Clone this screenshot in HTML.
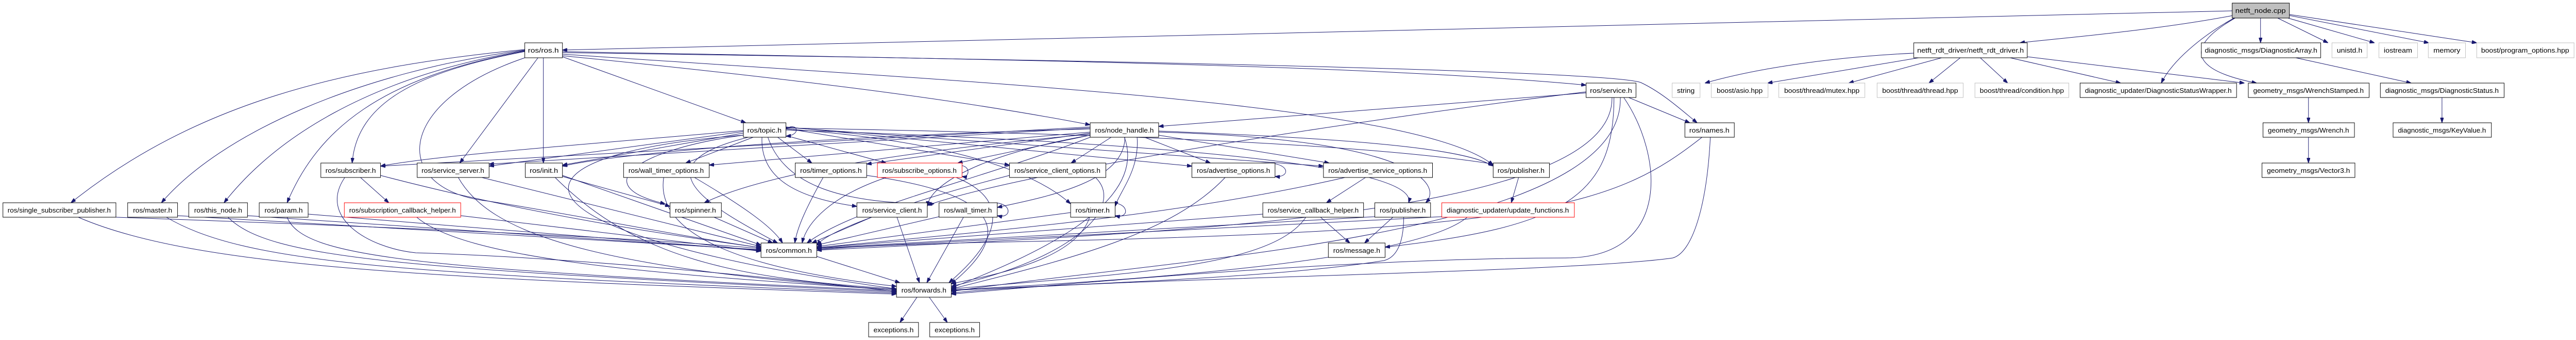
<!DOCTYPE html>
<html><head><meta charset="utf-8"><style>
html,body{margin:0;padding:0;background:#fff;width:5267px;height:659px;overflow:hidden;}
svg{display:block;position:fixed;left:0;top:0;width:100vw;height:100vh;}
text{font-family:"Liberation Sans",sans-serif;font-size:13px;fill:#000;text-anchor:middle;}
.n{fill:#fff;stroke:#000;stroke-width:1;}
.r{fill:#fff;stroke:#ff0000;stroke-width:1;}
.g{fill:#fff;stroke:#bfbfbf;stroke-width:1;}
.e path{fill:none;stroke:#191970;stroke-width:1;marker-end:url(#a);}
</style></head><body>
<svg viewBox="0 0 5267 659" preserveAspectRatio="none" xmlns="http://www.w3.org/2000/svg">
<defs><marker id="a" markerWidth="10" markerHeight="7" refX="10" refY="3.5" orient="auto" markerUnits="userSpaceOnUse"><path d="M0,0 L10,3.5 L0,7 z" fill="#191970" stroke="#191970"/></marker></defs>
<g class="e">
<path d="M4564 21 L1150 97"/>
<path d="M4566 30 C4400 60,4200 75,4130 83"/>
<path d="M4622 35 L4622 83"/>
<path d="M4657 35 L4760 83"/>
<path d="M4678 35 L4855 83"/>
<path d="M4681 30 L4966 83"/>
<path d="M4681 28 L5064 83"/>
<path d="M4568 35 C4500 70,4440 120,4419 161"/>
<path d="M4570 35 C4450 100,4500 140,4614 161"/>
<path d="M3913 103 C3760 110,3600 130,3486 161"/>
<path d="M3923 112 L3614 161"/>
<path d="M3970 112 L3780 161"/>
<path d="M4008 112 L3944 161"/>
<path d="M4049 112 L4105 161"/>
<path d="M4110 112 L4336 161"/>
<path d="M4145 110 L4589 161"/>
<path d="M4694 112 L4930 161"/>
<path d="M4993 189 L4993 238"/>
<path d="M4720 189 L4720 238"/>
<path d="M4720 266 L4720 316"/>
<path d="M1150 100 C2000 115,2800 125,3243 165"/>
<path d="M1150 102 C2500 120,3300 140,3355 160 C3400 180,3440 215,3470 238"/>
<path d="M1150 105 C2000 160,2900 200,3053 320"/>
<path d="M1150 108 C1700 160,2000 200,2229 242"/>
<path d="M1150 110 L1525 238"/>
<path d="M1111 112 L1111 316"/>
<path d="M1100 112 L940 316"/>
<path d="M1073 100 C850 140,730 200,720 316"/>
<path d="M1073 99 C780 150,650 250,587 393"/>
<path d="M1073 98 C750 150,560 270,458 393"/>
<path d="M1073 97 C730 140,450 260,330 393"/>
<path d="M1073 96 C700 130,400 200,145 393"/>
<path d="M1073 112 C800 200,800 370,1000 390 C1200 420,1400 460,1556 480"/>
<path d="M1607 250 C1630 235,1640 262,1607 264"/>
<path d="M1520 253 C1200 280,900 300,778 322"/>
<path d="M1520 255 L1000 322"/>
<path d="M1520 258 L1150 320"/>
<path d="M1540 266 L1402 316"/>
<path d="M1590 266 L1660 316"/>
<path d="M1612 264 L1812 316"/>
<path d="M1520 262 C1300 290,1200 360,1360 395"/>
<path d="M1558 266 C1555 330,1600 380,1752 400"/>
<path d="M1570 266 C1600 350,1700 395,1910 395"/>
<path d="M1530 266 C1300 320,1450 400,1590 471"/>
<path d="M1520 262 C1000 300,1000 450,1833 560"/>
<path d="M1607 250 C1900 270,2100 320,2189 395"/>
<path d="M1607 248 C2300 260,2800 280,3053 318"/>
<path d="M1607 252 C2500 280,2900 330,2880 393"/>
<path d="M1607 246 L2437 322"/>
<path d="M1607 247 L2706 322"/>
<path d="M1607 249 L2064 320"/>
<path d="M2272 266 L2190 316"/>
<path d="M2340 266 L2475 316"/>
<path d="M2369 262 L2718 316"/>
<path d="M2369 254 C2800 270,3000 290,3053 322"/>
<path d="M2369 256 C2900 270,2950 360,2915 393"/>
<path d="M2325 266 C2330 330,2290 370,2280 400"/>
<path d="M2300 266 C2300 350,2150 380,2039 402"/>
<path d="M2229 262 L1958 316"/>
<path d="M2229 258 L1772 318"/>
<path d="M2229 250 C1800 260,1300 290,1150 322"/>
<path d="M2229 248 L1000 318"/>
<path d="M2229 246 L778 322"/>
<path d="M2229 260 C2000 280,1600 320,1440 393"/>
<path d="M2229 262 C2000 300,1900 360,1896 400"/>
<path d="M2229 266 C2000 350,1750 400,1650 471"/>
<path d="M2299 266 C2350 400,2100 500,1945 558"/>
<path d="M2229 256 L1450 320"/>
<path d="M3243 180 L2369 245"/>
<path d="M3330 189 L3455 238"/>
<path d="M3296 189 C3300 420,2400 450,1670 485"/>
<path d="M3313 189 C3320 460,2400 500,1945 565"/>
<path d="M3320 189 C3400 300,3420 500,3200 500 C2800 500,2300 540,1945 570"/>
<path d="M3243 178 C2800 230,2100 330,1896 398"/>
<path d="M3300 189 C3300 380,3200 440,2832 479"/>
<path d="M3480 266 C3300 400,3150 450,2000 470 C1800 475,1700 480,1670 485"/>
<path d="M3497 266 C3490 400,3460 490,3420 500 C3200 530,2200 540,1945 568"/>
<path d="M778 340 C1100 420,1400 460,1556 480"/>
<path d="M705 344 C650 420,750 480,850 490 C1200 500,1600 540,1833 565"/>
<path d="M737 344 L795 393"/>
<path d="M985 344 L1556 478"/>
<path d="M937 344 C1000 450,1200 520,1833 562"/>
<path d="M1150 340 L1556 475"/>
<path d="M1135 344 C1300 500,1500 540,1833 560"/>
<path d="M1150 342 L1370 400"/>
<path d="M1420 344 C1520 400,1580 440,1600 471"/>
<path d="M1357 344 C1340 450,1500 520,1833 555"/>
<path d="M1683 344 C1650 400,1630 440,1625 471"/>
<path d="M1772 340 C2000 370,2100 430,1945 550"/>
<path d="M1812 344 C1700 380,1650 430,1640 471"/>
<path d="M1955 322 C1985 315,1985 345,1967 342"/>
<path d="M1955 344 C2100 400,2000 500,1940 548"/>
<path d="M2064 340 C1900 380,1700 440,1670 475"/>
<path d="M2240 344 C2300 400,2200 500,1945 555"/>
<path d="M2505 344 C2400 450,2200 500,1945 560"/>
<path d="M2577 316 C2640 312,2640 345,2607 342"/>
<path d="M2750 344 C2400 420,2000 450,1670 480"/>
<path d="M2792 344 L2712 393"/>
<path d="M3105 344 L3090 393"/>
<path d="M237 421 C800 440,1300 460,1556 482"/>
<path d="M160 421 C400 520,900 540,1833 570"/>
<path d="M363 418 L1556 484"/>
<path d="M340 421 C500 510,800 530,1833 568"/>
<path d="M506 418 L1556 485"/>
<path d="M466 421 C550 500,800 520,1833 566"/>
<path d="M630 415 L1556 486"/>
<path d="M587 421 C620 500,850 520,1833 564"/>
<path d="M942 418 L1556 487"/>
<path d="M852 421 C950 500,1300 530,1833 562"/>
<path d="M1460 421 L1580 471"/>
<path d="M1782 421 L1660 471"/>
<path d="M1834 421 L1880 548"/>
<path d="M1920 420 L1670 475"/>
<path d="M1970 421 L1895 548"/>
<path d="M2030 393 C2070 392,2070 425,2039 418"/>
<path d="M2189 412 L1670 478"/>
<path d="M2228 421 C2200 500,2050 530,1945 550"/>
<path d="M2270 393 C2310 392,2310 425,2280 418"/>
<path d="M2582 415 L1670 480"/>
<path d="M2700 421 L2760 471"/>
<path d="M2670 421 C2600 520,2300 530,1945 560"/>
<path d="M2848 421 L2790 471"/>
<path d="M2870 421 C2870 480,2850 500,2830 505 C2600 540,2200 550,1945 563"/>
<path d="M2811 420 L1670 481"/>
<path d="M2948 420 L1670 482"/>
<path d="M3000 421 C2900 500,2400 540,1945 562"/>
<path d="M1670 497 L1840 548"/>
<path d="M1875 576 L1840 625"/>
<path d="M1900 576 L1937 625"/>
</g>
<g>
<rect x="4564" y="6" width="117" height="29" fill="#bfbfbf" stroke="#000"/><text x="4622" y="25" textLength="103" lengthAdjust="spacingAndGlyphs">netft_node.cpp</text>
<rect class="n" x="1073" y="83" width="77" height="29"/><text x="1111" y="102" textLength="63" lengthAdjust="spacingAndGlyphs">ros/ros.h</text>
<rect class="n" x="3913" y="83" width="232" height="29"/><text x="4029" y="102" textLength="218" lengthAdjust="spacingAndGlyphs">netft_rdt_driver/netft_rdt_driver.h</text>
<rect class="n" x="4501" y="83" width="244" height="29"/><text x="4623" y="102" textLength="230" lengthAdjust="spacingAndGlyphs">diagnostic_msgs/DiagnosticArray.h</text>
<rect class="g" x="4768" y="83" width="72" height="29"/><text x="4804" y="102" textLength="52" lengthAdjust="spacingAndGlyphs">unistd.h</text>
<rect class="g" x="4864" y="83" width="79" height="29"/><text x="4903" y="102" textLength="58" lengthAdjust="spacingAndGlyphs">iostream</text>
<rect class="g" x="4965" y="83" width="76" height="29"/><text x="5003" y="102" textLength="55" lengthAdjust="spacingAndGlyphs">memory</text>
<rect class="g" x="5064" y="83" width="199" height="29"/><text x="5163" y="102" textLength="180" lengthAdjust="spacingAndGlyphs">boost/program_options.hpp</text>
<rect class="n" x="3243" y="161" width="102" height="28"/><text x="3294" y="180" textLength="86" lengthAdjust="spacingAndGlyphs">ros/service.h</text>
<rect class="g" x="3419" y="161" width="57" height="28"/><text x="3447" y="180" textLength="36" lengthAdjust="spacingAndGlyphs">string</text>
<rect class="g" x="3499" y="161" width="116" height="28"/><text x="3557" y="180" textLength="94" lengthAdjust="spacingAndGlyphs">boost/asio.hpp</text>
<rect class="g" x="3637" y="161" width="176" height="28"/><text x="3725" y="180" textLength="154" lengthAdjust="spacingAndGlyphs">boost/thread/mutex.hpp</text>
<rect class="g" x="3838" y="161" width="176" height="28"/><text x="3926" y="180" textLength="155" lengthAdjust="spacingAndGlyphs">boost/thread/thread.hpp</text>
<rect class="g" x="4038" y="161" width="192" height="28"/><text x="4134" y="180" textLength="172" lengthAdjust="spacingAndGlyphs">boost/thread/condition.hpp</text>
<rect class="n" x="4253" y="161" width="320" height="28"/><text x="4413" y="180" textLength="300" lengthAdjust="spacingAndGlyphs">diagnostic_updater/DiagnosticStatusWrapper.h</text>
<rect class="n" x="4597" y="161" width="247" height="28"/><text x="4720" y="180" textLength="226" lengthAdjust="spacingAndGlyphs">geometry_msgs/WrenchStamped.h</text>
<rect class="n" x="4867" y="161" width="253" height="28"/><text x="4993" y="180" textLength="232" lengthAdjust="spacingAndGlyphs">diagnostic_msgs/DiagnosticStatus.h</text>
<rect class="n" x="1520" y="238" width="87" height="28"/><text x="1563" y="257" textLength="70" lengthAdjust="spacingAndGlyphs">ros/topic.h</text>
<rect class="n" x="2229" y="238" width="140" height="28"/><text x="2299" y="257" textLength="120" lengthAdjust="spacingAndGlyphs">ros/node_handle.h</text>
<rect class="n" x="3445" y="238" width="101" height="28"/><text x="3495" y="257" textLength="82" lengthAdjust="spacingAndGlyphs">ros/names.h</text>
<rect class="n" x="4627" y="238" width="187" height="28"/><text x="4720" y="257" textLength="166" lengthAdjust="spacingAndGlyphs">geometry_msgs/Wrench.h</text>
<rect class="n" x="4893" y="238" width="201" height="28"/><text x="4993" y="257" textLength="180" lengthAdjust="spacingAndGlyphs">diagnostic_msgs/KeyValue.h</text>
<rect class="n" x="656" y="316" width="122" height="28"/><text x="717" y="335" textLength="103" lengthAdjust="spacingAndGlyphs">ros/subscriber.h</text>
<rect class="n" x="853" y="316" width="147" height="28"/><text x="926" y="335" textLength="128" lengthAdjust="spacingAndGlyphs">ros/service_server.h</text>
<rect class="n" x="1074" y="316" width="76" height="28"/><text x="1112" y="335" textLength="58" lengthAdjust="spacingAndGlyphs">ros/init.h</text>
<rect class="n" x="1275" y="316" width="175" height="28"/><text x="1362" y="335" textLength="154" lengthAdjust="spacingAndGlyphs">ros/wall_timer_options.h</text>
<rect class="n" x="1626" y="316" width="146" height="28"/><text x="1699" y="335" textLength="126" lengthAdjust="spacingAndGlyphs">ros/timer_options.h</text>
<rect class="r" x="1794" y="316" width="173" height="28"/><text x="1880" y="335" textLength="152" lengthAdjust="spacingAndGlyphs">ros/subscribe_options.h</text>
<rect class="n" x="2064" y="316" width="197" height="28"/><text x="2162" y="335" textLength="176" lengthAdjust="spacingAndGlyphs">ros/service_client_options.h</text>
<rect class="n" x="2437" y="316" width="170" height="28"/><text x="2522" y="335" textLength="150" lengthAdjust="spacingAndGlyphs">ros/advertise_options.h</text>
<rect class="n" x="2706" y="316" width="223" height="28"/><text x="2817" y="335" textLength="202" lengthAdjust="spacingAndGlyphs">ros/advertise_service_options.h</text>
<rect class="n" x="3053" y="316" width="115" height="28"/><text x="3110" y="335" textLength="96" lengthAdjust="spacingAndGlyphs">ros/publisher.h</text>
<rect class="n" x="4625" y="316" width="190" height="28"/><text x="4720" y="335" textLength="170" lengthAdjust="spacingAndGlyphs">geometry_msgs/Vector3.h</text>
<rect class="n" x="6" y="393" width="231" height="28"/><text x="121" y="412" textLength="211" lengthAdjust="spacingAndGlyphs">ros/single_subscriber_publisher.h</text>
<rect class="n" x="261" y="393" width="102" height="28"/><text x="312" y="412" textLength="80" lengthAdjust="spacingAndGlyphs">ros/master.h</text>
<rect class="n" x="386" y="393" width="120" height="28"/><text x="446" y="412" textLength="98" lengthAdjust="spacingAndGlyphs">ros/this_node.h</text>
<rect class="n" x="530" y="393" width="100" height="28"/><text x="580" y="412" textLength="78" lengthAdjust="spacingAndGlyphs">ros/param.h</text>
<rect class="r" x="704" y="393" width="238" height="28"/><text x="823" y="412" textLength="218" lengthAdjust="spacingAndGlyphs">ros/subscription_callback_helper.h</text>
<rect class="n" x="1370" y="393" width="105" height="28"/><text x="1422" y="412" textLength="84" lengthAdjust="spacingAndGlyphs">ros/spinner.h</text>
<rect class="n" x="1752" y="393" width="144" height="28"/><text x="1824" y="412" textLength="122" lengthAdjust="spacingAndGlyphs">ros/service_client.h</text>
<rect class="n" x="1920" y="393" width="119" height="28"/><text x="1979" y="412" textLength="98" lengthAdjust="spacingAndGlyphs">ros/wall_timer.h</text>
<rect class="n" x="2189" y="393" width="91" height="28"/><text x="2234" y="412" textLength="70" lengthAdjust="spacingAndGlyphs">ros/timer.h</text>
<rect class="n" x="2582" y="393" width="206" height="28"/><text x="2685" y="412" textLength="186" lengthAdjust="spacingAndGlyphs">ros/service_callback_helper.h</text>
<rect class="n" x="2811" y="393" width="114" height="28"/><text x="2868" y="412" textLength="94" lengthAdjust="spacingAndGlyphs">ros/publisher.h</text>
<rect class="r" x="2948" y="393" width="271" height="28"/><text x="3083" y="412" textLength="250" lengthAdjust="spacingAndGlyphs">diagnostic_updater/update_functions.h</text>
<rect class="n" x="1556" y="471" width="114" height="28"/><text x="1613" y="490" textLength="94" lengthAdjust="spacingAndGlyphs">ros/common.h</text>
<rect class="n" x="2716" y="471" width="116" height="28"/><text x="2774" y="490" textLength="96" lengthAdjust="spacingAndGlyphs">ros/message.h</text>
<rect class="n" x="1833" y="548" width="112" height="28"/><text x="1889" y="567" textLength="92" lengthAdjust="spacingAndGlyphs">ros/forwards.h</text>
<rect class="n" x="1776" y="625" width="102" height="28"/><text x="1827" y="644" textLength="82" lengthAdjust="spacingAndGlyphs">exceptions.h</text>
<rect class="n" x="1901" y="625" width="102" height="28"/><text x="1952" y="644" textLength="82" lengthAdjust="spacingAndGlyphs">exceptions.h</text>
</g>
</svg>
</body></html>
